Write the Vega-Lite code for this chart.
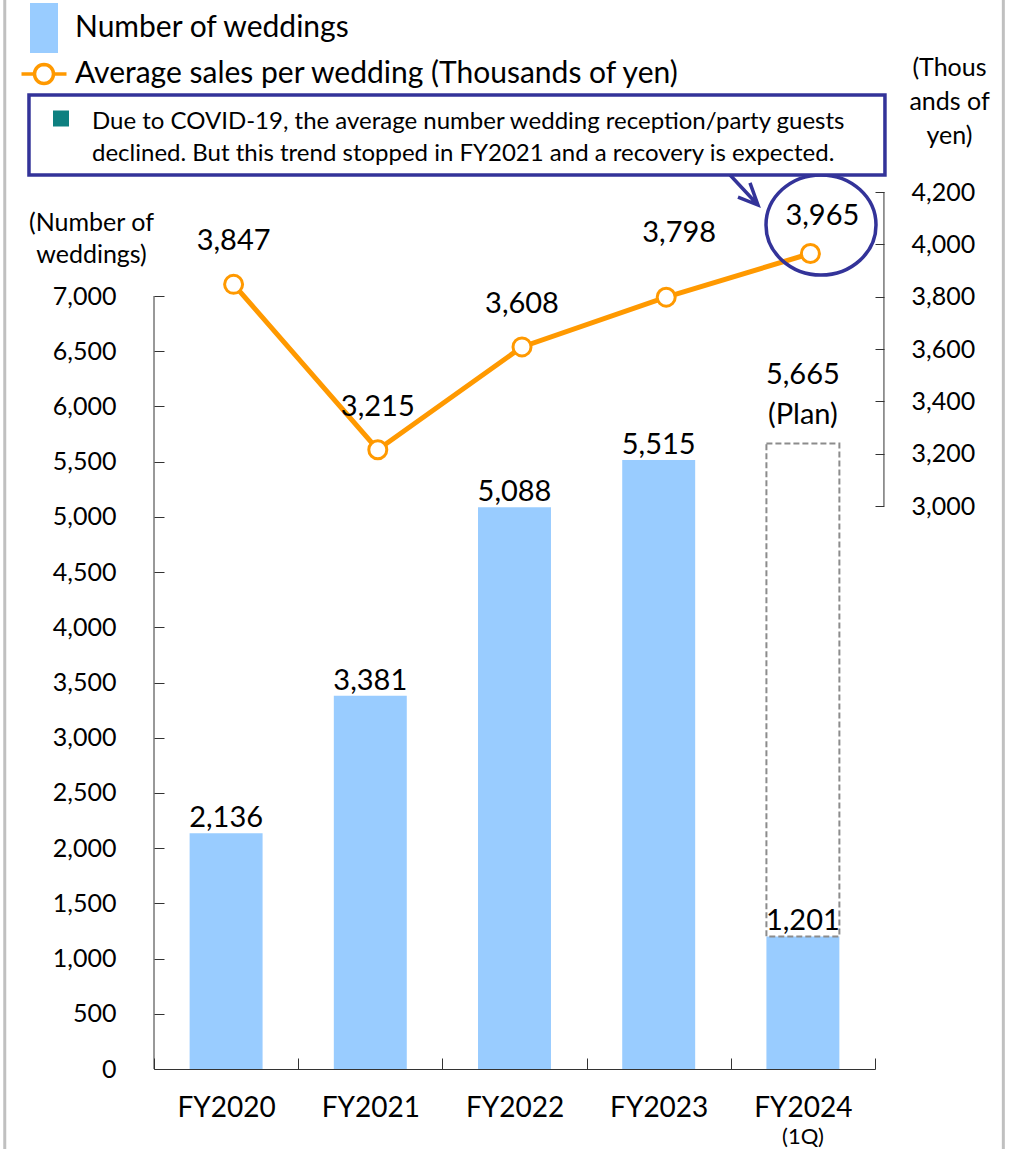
{
  "$schema": "https://vega.github.io/schema/vega-lite/v6.json",
  "width": 721,
  "height": 877,
  "autosize": {"type": "none"},
  "padding": {"left": 154, "top": 192, "right": 145, "bottom": 80},
  "background": "white",
  "config": {
    "view": {"stroke": null},
    "font": "Lato",
    "text": {"font": "Lato", "color": "#000000"},
    "axis": {"grid": false}
  },
  "datasets": {
    "main": [
      {"year": "FY2020", "weddings": 2136, "sales": 3847},
      {"year": "FY2021", "weddings": 3381, "sales": 3215},
      {"year": "FY2022", "weddings": 5088, "sales": 3608},
      {"year": "FY2023", "weddings": 5515, "sales": 3798},
      {"year": "FY2024", "weddings": 1201, "sales": 3965, "plan": 5665}
    ],
    "note": [
      {"text": ["Due to COVID-19, the average number wedding reception/party guests", "declined. But this trend stopped in FY2021 and a recovery is expected."]}
    ]
  },
  "data": {"name": "main"},
  "layer": [
    {
      "layer": [
        {
          "mark": {"type": "bar", "width": {"band": 0.506}},
          "encoding": {
            "x": {
              "field": "year", "type": "nominal",
              "scale": {"paddingInner": 0, "paddingOuter": 0},
              "axis": {
                "title": null, "labelAngle": 0, "domainColor": "#333333", "tickColor": "#333333",
                "tickBand": "extent", "tickSize": -11, "labelPadding": 58, "labelBaseline": "alphabetic",
                "labelFont": "Lato", "labelFontSize": 28, "labelColor": "#000000"
              }
            },
            "y": {
              "field": "weddings", "type": "quantitative",
              "scale": {"domain": [0, 7941.8], "nice": false, "zero": true},
              "axis": {
                "orient": "left", "domain": false, "values": [0, 500, 1000, 1500, 2000, 2500, 3000, 3500, 4000, 4500, 5000, 5500, 6000, 6500, 7000],
                "format": ",.0f", "tickSize": -10, "tickColor": "#333333", "labelPadding": 48,
                "labelFont": "Lato", "labelFontSize": 25, "labelColor": "#000000",
                "title": ["(Number of", "weddings)"], "titleAngle": 0, "titleAlign": "center", "titleBaseline": "alphabetic",
                "titleX": -63, "titleY": 38, "titleLineHeight": 32, "titleFont": "Lato", "titleFontSize": 25,
                "titleFontWeight": "normal", "titleColor": "#000000"
              }
            },
            "color": {
              "datum": "Number of weddings", "type": "nominal",
              "scale": {"domain": ["Number of weddings", "Average sales per wedding (Thousands of yen)"], "range": ["#99ccff", "#ff9900"]},
              "legend": {
                "title": null, "orient": "none", "legendX": -125, "legendY": -179, "padding": 0,
                "labelFont": "Lato", "labelFontSize": 30, "labelColor": "#000000", "labelLimit": 0,
                "labelOffset": 16, "rowPadding": 4, "symbolSize": 2500, "symbolStrokeWidth": 3.5,
                "encode": {
                  "symbols": {
                    "update": {
                      "shape": {"signal": "datum.value === 'Number of weddings' ? 'M-0.56,-1L0.56,-1L0.56,1L-0.56,1Z' : 'M-0.9,0L-0.38,0M0.38,0L0.9,0M-0.38,0A0.38,0.38,0,1,1,0.38,0A0.38,0.38,0,1,1,-0.38,0M-0.38,0A0.38,0.38,0,1,0,0.38,0A0.38,0.38,0,1,0,-0.38,0'"},
                      "strokeWidth": {"signal": "datum.value === 'Number of weddings' ? 0 : 3.5"},
                      "opacity": {"value": 1}
                    }
                  }
                }
              }
            }
          }
        },
        {
          "transform": [{"filter": "isValid(datum.plan)"}],
          "mark": {"type": "bar", "width": {"band": 0.506}, "fill": "#ffffff", "fillOpacity": 0, "stroke": "#8c8c8c", "strokeWidth": 2, "strokeDash": [6, 3]},
          "encoding": {
            "x": {"field": "year", "type": "nominal"},
            "y": {"field": "weddings", "type": "quantitative"},
            "y2": {"field": "plan"}
          }
        },
        {
          "mark": {"type": "text", "fontSize": 29, "baseline": "alphabetic", "align": "center", "dy": -6},
          "encoding": {
            "x": {"field": "year", "type": "nominal"},
            "y": {"field": "weddings", "type": "quantitative"},
            "text": {"field": "weddings", "type": "quantitative", "format": ",.0f"}
          }
        },
        {
          "transform": [{"filter": "isValid(datum.plan)"}],
          "mark": {"type": "text", "fontSize": 29, "baseline": "alphabetic", "align": "center", "dy": -59},
          "encoding": {
            "x": {"field": "year", "type": "nominal"},
            "y": {"field": "plan", "type": "quantitative"},
            "text": {"field": "plan", "type": "quantitative", "format": ",.0f"}
          }
        },
        {
          "transform": [{"filter": "isValid(datum.plan)"}],
          "mark": {"type": "text", "fontSize": 29, "baseline": "alphabetic", "align": "center", "dy": -19, "text": "(Plan)"},
          "encoding": {
            "x": {"field": "year", "type": "nominal"},
            "y": {"field": "plan", "type": "quantitative"}
          }
        },
        {
          "transform": [{"filter": "datum.year === 'FY2024'"}],
          "mark": {"type": "text", "fontSize": 22, "baseline": "alphabetic", "align": "center", "text": "(1Q)"},
          "encoding": {
            "x": {"field": "year", "type": "nominal"},
            "y": {"datum": -679, "type": "quantitative"}
          }
        },
        {
          "transform": [{"filter": "datum.year === 'FY2020'"}],
          "mark": {"type": "rule", "color": "#333333", "strokeWidth": 1},
          "encoding": {
            "x": {"field": "year", "type": "nominal", "bandPosition": 0},
            "y": {"datum": 0, "type": "quantitative"},
            "y2": {"datum": 7000}
          }
        },
        {
          "transform": [{"filter": "datum.year === 'FY2020'"}],
          "mark": {"type": "rule", "color": "#c0c0c0", "strokeWidth": 3},
          "encoding": {
            "x": {"field": "year", "type": "nominal", "bandPosition": -1.035},
            "y": {"datum": -725, "type": "quantitative"},
            "y2": {"datum": 9681}
          }
        },
        {
          "transform": [{"filter": "datum.year === 'FY2024'"}],
          "mark": {"type": "rule", "color": "#c0c0c0", "strokeWidth": 3},
          "encoding": {
            "x": {"field": "year", "type": "nominal", "bandPosition": 1.89},
            "y": {"datum": -725, "type": "quantitative"},
            "y2": {"datum": 9681}
          }
        }
      ]
    },
    {
      "layer": [
        {
          "mark": {"type": "line", "strokeWidth": 5},
          "encoding": {
            "x": {"field": "year", "type": "nominal", "bandPosition": 0.552},
            "y": {
              "field": "sales", "type": "quantitative",
              "scale": {"domain": [848.5, 4200], "nice": false, "zero": false},
              "axis": {
                "orient": "right", "offset": 9, "domain": false, "values": [3000, 3200, 3400, 3600, 3800, 4000, 4200],
                "format": ",.0f", "tickSize": -9, "tickColor": "#333333", "labelPadding": 36,
                "labelFont": "Lato", "labelFontSize": 25, "labelColor": "#000000",
                "title": ["(Thous", "ands of", "yen)"], "titleAngle": 0, "titleAlign": "center", "titleBaseline": "alphabetic",
                "titleX": 65, "titleY": -117, "titleLineHeight": 34, "titleFont": "Lato", "titleFontSize": 25,
                "titleFontWeight": "normal", "titleColor": "#000000"
              }
            },
            "color": {"datum": "Average sales per wedding (Thousands of yen)", "type": "nominal"}
          }
        },
        {
          "mark": {"type": "point", "shape": "circle", "filled": true, "fill": "#ffffff", "stroke": "#ff9900", "strokeWidth": 3, "size": 324, "opacity": 1},
          "encoding": {
            "x": {"field": "year", "type": "nominal", "bandPosition": 0.552},
            "y": {"field": "sales", "type": "quantitative"}
          }
        },
        {
          "transform": [{"filter": "datum.year === 'FY2020' || datum.year === 'FY2021' || datum.year === 'FY2022'"}],
          "mark": {"type": "text", "fontSize": 29, "baseline": "alphabetic", "align": "center", "dy": -34},
          "encoding": {
            "x": {"field": "year", "type": "nominal", "bandPosition": 0.552},
            "y": {"field": "sales", "type": "quantitative"},
            "text": {"field": "sales", "type": "quantitative", "format": ",.0f"}
          }
        },
        {
          "transform": [{"filter": "datum.year === 'FY2023'"}],
          "mark": {"type": "text", "fontSize": 29, "baseline": "alphabetic", "align": "center", "dx": 13, "dy": -55},
          "encoding": {
            "x": {"field": "year", "type": "nominal", "bandPosition": 0.552},
            "y": {"field": "sales", "type": "quantitative"},
            "text": {"field": "sales", "type": "quantitative", "format": ",.0f"}
          }
        },
        {
          "transform": [{"filter": "datum.year === 'FY2024'"}],
          "mark": {"type": "text", "fontSize": 29, "baseline": "alphabetic", "align": "center", "dx": 12, "dy": -28},
          "encoding": {
            "x": {"field": "year", "type": "nominal", "bandPosition": 0.552},
            "y": {"field": "sales", "type": "quantitative"},
            "text": {"field": "sales", "type": "quantitative", "format": ",.0f"}
          }
        },
        {
          "transform": [{"filter": "datum.year === 'FY2024'"}],
          "mark": {"type": "point", "shape": "M-1,0A1,0.91,0,1,1,1,0A1,0.91,0,1,1,-1,0Z", "filled": false, "stroke": "#333399", "strokeWidth": 3.5, "size": 12100, "opacity": 1},
          "encoding": {
            "x": {"field": "year", "type": "nominal", "bandPosition": 0.6255},
            "y": {"datum": 4074, "type": "quantitative"}
          }
        },
        {
          "transform": [{"filter": "datum.year === 'FY2024'"}],
          "mark": {"type": "point", "shape": "M-0.93,-1L0.93,1M0.4,-0.47L0.93,1L-0.4,0.47", "filled": false, "stroke": "#333399", "strokeWidth": 3.5, "size": 900, "opacity": 1},
          "encoding": {
            "x": {"field": "year", "type": "nominal", "bandPosition": 0.0915},
            "y": {"datum": 4207.6, "type": "quantitative"}
          }
        },
        {
          "transform": [{"filter": "datum.year === 'FY2024'"}],
          "mark": {"type": "rule", "color": "#333333", "strokeWidth": 1},
          "encoding": {
            "x": {"field": "year", "type": "nominal", "bandPosition": 1.062},
            "y": {"datum": 3000, "type": "quantitative"},
            "y2": {"datum": 4200}
          }
        },
        {
          "data": {"name": "note"},
          "mark": {"type": "rect", "fill": "#ffffff", "stroke": "#333399", "strokeWidth": 3.5},
          "encoding": {
            "x": {"datum": "FY2020", "type": "nominal", "bandPosition": -0.867},
            "x2": {"datum": "FY2024", "bandPosition": 1.069},
            "y": {"datum": 4570.7, "type": "quantitative"},
            "y2": {"datum": 4265}
          }
        },
        {
          "data": {"name": "note"},
          "mark": {"type": "point", "shape": "square", "filled": true, "fill": "#0e8080", "size": 256, "opacity": 1},
          "encoding": {
            "x": {"datum": "FY2020", "type": "nominal", "bandPosition": -0.645},
            "y": {"datum": 4480.9, "type": "quantitative"}
          }
        },
        {
          "data": {"name": "note"},
          "mark": {"type": "text", "fontSize": 24, "baseline": "alphabetic", "align": "left", "lineHeight": 32},
          "encoding": {
            "x": {"datum": "FY2020", "type": "nominal", "bandPosition": -0.43},
            "y": {"datum": 4440.8, "type": "quantitative"},
            "text": {"field": "text"}
          }
        }
      ]
    }
  ],
  "resolve": {"scale": {"y": "independent"}}
}
